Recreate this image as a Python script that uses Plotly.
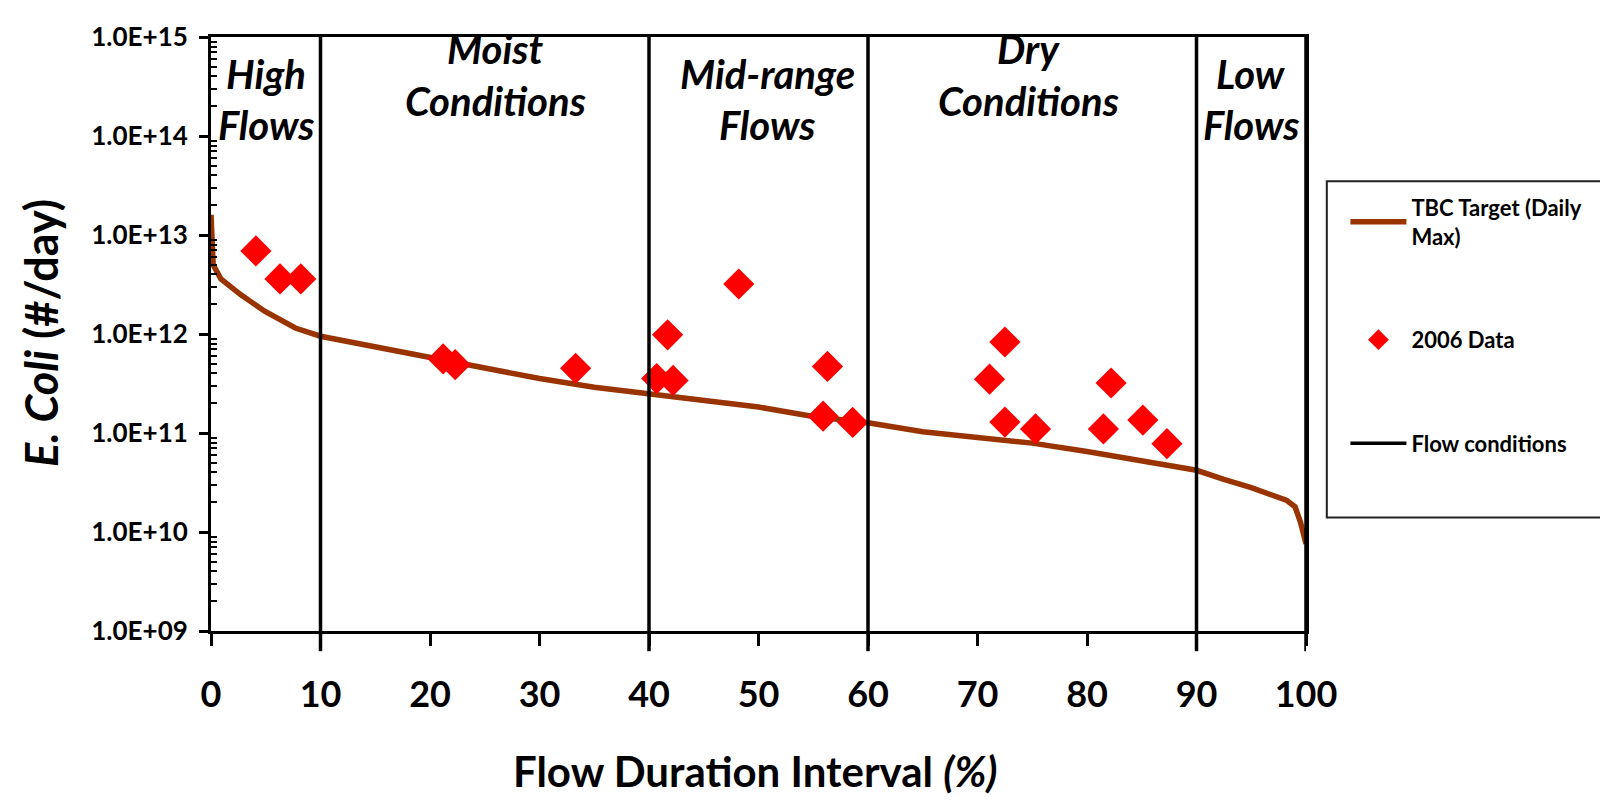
import plotly.graph_objects as go

# ---------------- data ----------------
curve_x = [0, 0.2, 0.9, 2.7, 4.9, 7.7, 10, 16, 25, 30, 35, 40, 45, 50, 55, 60,
           65, 70, 75, 80, 85, 90, 92.5, 95, 98.2, 99, 99.5, 100]
curve_y = [1.6e13, 5.0e12, 3.6e12, 2.5e12, 1.7e12, 1.15e12, 9.5e11, 7.1e11, 4.6e11,
           3.55e11, 2.9e11, 2.5e11, 2.1e11, 1.83e11, 1.47e11, 1.27e11, 1.03e11,
           9.0e10, 7.9e10, 6.5e10, 5.3e10, 4.2e10, 3.4e10, 2.8e10, 2.1e10, 1.8e10,
           1.25e10, 7.6e9]

data_x = [4.1, 6.3, 8.2, 21.2, 22.3, 33.3, 40.7, 41.7, 42.2, 48.2, 55.9, 56.3, 58.6,
          71.1, 72.5, 72.5, 75.3, 81.5, 82.2, 85.1, 87.3]
data_y = [6.9e12, 3.6e12, 3.6e12, 5.6e11, 4.9e11, 4.5e11, 3.55e11, 9.8e11, 3.4e11,
          3.2e12, 1.48e11, 4.7e11, 1.28e11, 3.5e11, 8.3e11, 1.29e11, 1.1e11, 1.1e11,
          3.2e11, 1.35e11, 7.8e10]

flow_bounds = [10, 40, 60, 90, 100]

region_x = [5.0, 26.0, 50.8, 74.7, 95.0]
region_line1 = ["High", "Moist", "Mid-range", "Dry", "Low"]
region_line2 = ["Flows", "Conditions", "Flows", "Conditions", "Flows"]

y_tick_vals = [1e9, 1e10, 1e11, 1e12, 1e13, 1e14, 1e15]
y_tick_text = ["1.0E+09", "1.0E+10", "1.0E+11", "1.0E+12", "1.0E+13", "1.0E+14", "1.0E+15"]
x_tick_vals = [0, 10, 20, 30, 40, 50, 60, 70, 80, 90, 100]

# ---------------- styles ----------------
FONT = "Lato"
BROWN = "#993300"
Y_MIN, Y_MAX = 1e9, 1e15
region_high = {"Moist", "Dry"}   # labels placed higher

fig = go.Figure()

fig.add_trace(go.Scatter(
    x=curve_x, y=curve_y, mode="lines", name="TBC Target (Daily<br>Max)",
    line=dict(color=BROWN, width=5.5), legendgroup="a"))

fig.add_trace(go.Scatter(
    x=data_x, y=data_y, mode="markers", name="2006 Data",
    marker=dict(symbol="diamond", color="#ff0000", size=24, line=dict(width=0)),
    legendgroup="b"))

fx, fy = [], []
for b in flow_bounds:
    fx += [b, b, None]
    fy += [Y_MIN, Y_MAX, None]
fig.add_trace(go.Scatter(
    x=fx, y=fy, mode="lines", name="Flow conditions",
    line=dict(color="black", width=3.5), legendgroup="c"))

# extension of flow-condition lines below the axis
for b in flow_bounds:
    fig.add_shape(type="line", xref="x", yref="paper", x0=b, x1=b, y0=-0.034, y1=0,
                  line=dict(color="black", width=3.5))

# legend frame (runs off the right edge like the reference)
fig.add_shape(type="rect", xref="paper", yref="paper", x0=1.019, x1=1.35,
              y0=0.191, y1=0.757, line=dict(color="#222222", width=2),
              fillcolor="rgba(0,0,0,0)", layer="above")

# region labels
for xc, l1, l2 in zip(region_x, region_line1, region_line2):
    if l1 in region_high:
        ys = (0.979, 0.893)
    else:
        ys = (0.938, 0.852)
    for txt, yy in zip((l1, l2), ys):
        fig.add_annotation(x=xc, y=yy, xref="x", yref="paper", text=f"<b><i>{txt}</i></b>",
                           showarrow=False, xanchor="center", yanchor="middle",
                           font=dict(family=FONT, size=40, color="black"))

# axis titles
fig.add_annotation(x=0.497, y=-0.280, xref="paper", yref="paper",
                   xanchor="center", yanchor="bottom", borderpad=0,
                   text="<b>Flow Duration Interval <i>(%)</i></b>", showarrow=False,
                   font=dict(family=FONT, size=42, color="black"))
fig.add_annotation(x=-0.155, y=0.502, xref="paper", yref="paper", textangle=-90,
                   xanchor="center", yanchor="middle",
                   text="<b><i>E. Coli</i> (#/day)</b>", showarrow=False,
                   font=dict(family=FONT, size=45, color="black"))

minor_vals = [k * 10 ** e for e in range(9, 15) for k in range(2, 10)]

fig.update_layout(
    width=1608, height=801,
    margin=dict(l=203, r=310, t=22, b=178),
    paper_bgcolor="white", plot_bgcolor="white",
    font=dict(family=FONT, color="black"),
    showlegend=True,
    legend=dict(x=1.036, y=0.748, xanchor="left", yanchor="top",
                borderwidth=0, bgcolor="rgba(0,0,0,0)",
                font=dict(family=FONT, size=22, color="black", weight="bold"),
                tracegroupgap=72, itemwidth=56, traceorder="grouped"),
    xaxis=dict(range=[0, 100], tickvals=x_tick_vals, ticks="outside", ticklen=12,
               tickwidth=3, tickcolor="black", showline=True, linewidth=3,
               linecolor="black", mirror=True, showgrid=False, zeroline=False,
               ticklabelstandoff=18,
               tickfont=dict(family=FONT, size=36, color="black", weight="bold")),
    yaxis=dict(type="log", range=[9, 15], tickvals=y_tick_vals, ticktext=y_tick_text,
               ticks="outside", ticklen=9, tickwidth=3, tickcolor="black",
               showline=True, linewidth=3, linecolor="black", mirror=True,
               showgrid=False, zeroline=False, ticklabelstandoff=6,
               tickfont=dict(family=FONT, size=26, color="black", weight="bold"),
               minor=dict(tickvals=minor_vals, ticks="inside", ticklen=6,
                          tickwidth=2, tickcolor="black", showgrid=False)),
)

fig.write_html("out.html")
